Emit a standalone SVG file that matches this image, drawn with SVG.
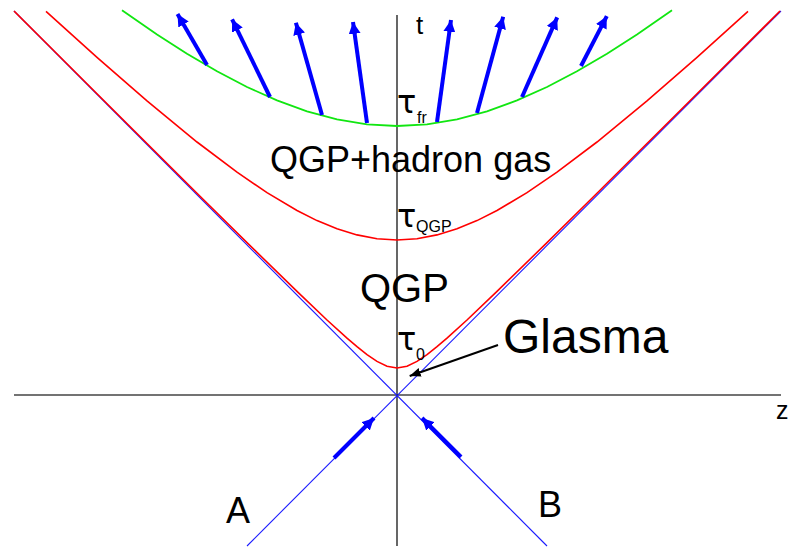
<svg xmlns="http://www.w3.org/2000/svg" width="789" height="547" viewBox="0 0 789 547">
<style>
text { font-family: "Liberation Sans", Arial, sans-serif; fill: #000; }
.cone { fill: none; stroke: #1a1aff; stroke-width: 1.1; }
.red { fill: none; stroke: #ff0000; stroke-width: 1.6; }
.green { fill: none; stroke: #11e611; stroke-width: 1.8; }
.flow { fill: none; stroke: #0000ff; stroke-width: 4; marker-end: url(#bh); }
.beam { fill: none; stroke: #0000ff; stroke-width: 4; marker-end: url(#bh); }
.ptr { fill: none; stroke: #000; stroke-width: 2; marker-end: url(#kh); }
.tau { font-family: "DejaVu Sans", sans-serif; font-size: 32px; }
.sub { font-size: 16px; }
</style>
<defs>
<marker id="bh" markerUnits="userSpaceOnUse" markerWidth="14" markerHeight="12" refX="12" refY="6" orient="auto">
<path d="M0,0 L12,6 L0,12 z" fill="#0000ff"/>
</marker>
<marker id="kh" markerUnits="userSpaceOnUse" markerWidth="12" markerHeight="10" refX="11" refY="4.5" orient="auto">
<path d="M0,0 L11,4.5 L0,9 z" fill="#000"/>
</marker>
</defs>

<g id="axes">
<line x1="14" y1="395" x2="781" y2="395" stroke="#444" stroke-width="1.5"/>
<line x1="397" y1="15" x2="397" y2="546" stroke="#000" stroke-width="1.2"/>
</g>

<g id="lightcone">
<line class="cone" x1="14" y1="11" x2="547" y2="546"/>
<line class="cone" x1="781" y1="11" x2="247" y2="546"/>
</g>

<g id="hyperbola-tau0">
<polyline class="red" points="14,11.05 97,93.8 197,193.2 247,242.6 297,291.4 327,320 347,338.2 357,346.7 367,354.6 377,361.4 387,366.2 397,368 407,366.2 417,361.4 427,354.6 437,346.7 447,338.2 467,320 497,291.4 547,242.6 597,193.2 697,93.8 780,11.05"/>
</g>

<g id="hyperbola-tauQGP">
<polyline class="red" points="46,11.3 97,57.3 147,100.8 197,142 237,172.2 267,192.7 297,210.5 317,220.6 337,228.8 357,234.9 377,238.7 397,240 417,238.7 437,234.9 457,228.8 477,220.6 497,210.5 527,192.7 557,172.2 597,142 647,100.8 697,57.3 748,11.3"/>
</g>

<g id="hyperbola-taufr">
<polyline class="green" points="122,10.3 157,34.5 187,53.7 217,71.3 247,87 277,100.4 307,111.3 337,119.4 367,124.3 397,126 427,124.3 457,119.4 487,111.3 517,100.4 547,87 577,71.3 607,53.7 637,34.5 672,10.3"/>
</g>

<g id="connectors">
<line class="flow" x1="207" y1="65" x2="177.5" y2="14.1"/>
<line class="flow" x1="270" y1="97" x2="232.1" y2="19.3"/>
<line class="flow" x1="322" y1="115" x2="295.9" y2="22.7"/>
<line class="flow" x1="367" y1="123" x2="353" y2="21.9"/>
<line class="flow" x1="437" y1="122" x2="451" y2="19.9"/>
<line class="flow" x1="477" y1="113" x2="503.2" y2="16.8"/>
<line class="flow" x1="522" y1="97" x2="557.2" y2="17.4"/>
<line class="flow" x1="581" y1="66" x2="606.8" y2="16.2"/>
<line class="beam" x1="334" y1="458" x2="374" y2="418"/>
<line class="beam" x1="461" y1="457" x2="422" y2="418"/>
<line class="ptr" x1="498" y1="345" x2="409.7" y2="376"/>
</g>

<g id="label-t"><text x="416" y="34" font-size="26">t</text></g>
<g id="label-z"><text x="776" y="419" font-size="25">z</text></g>
<g id="label-taufr"><text><tspan class="tau" x="397" y="113">τ</tspan><tspan class="sub" x="417" y="123">fr</tspan></text></g>
<g id="label-tauQGP"><text><tspan class="tau" x="397" y="227">τ</tspan><tspan class="sub" x="416" y="232">QGP</tspan></text></g>
<g id="label-tau0"><text><tspan class="tau" x="397" y="350">τ</tspan><tspan class="sub" x="416" y="360">0</tspan></text></g>
<g id="label-mixed"><text x="270" y="172" font-size="36">QGP+hadron gas</text></g>
<g id="label-QGP"><text x="360" y="302" font-size="40">QGP</text></g>
<g id="label-glasma"><text x="503" y="353" font-size="48">Glasma</text></g>
<g id="label-A"><text x="226" y="523" font-size="36">A</text></g>
<g id="label-B"><text x="538" y="517" font-size="36">B</text></g>
</svg>
